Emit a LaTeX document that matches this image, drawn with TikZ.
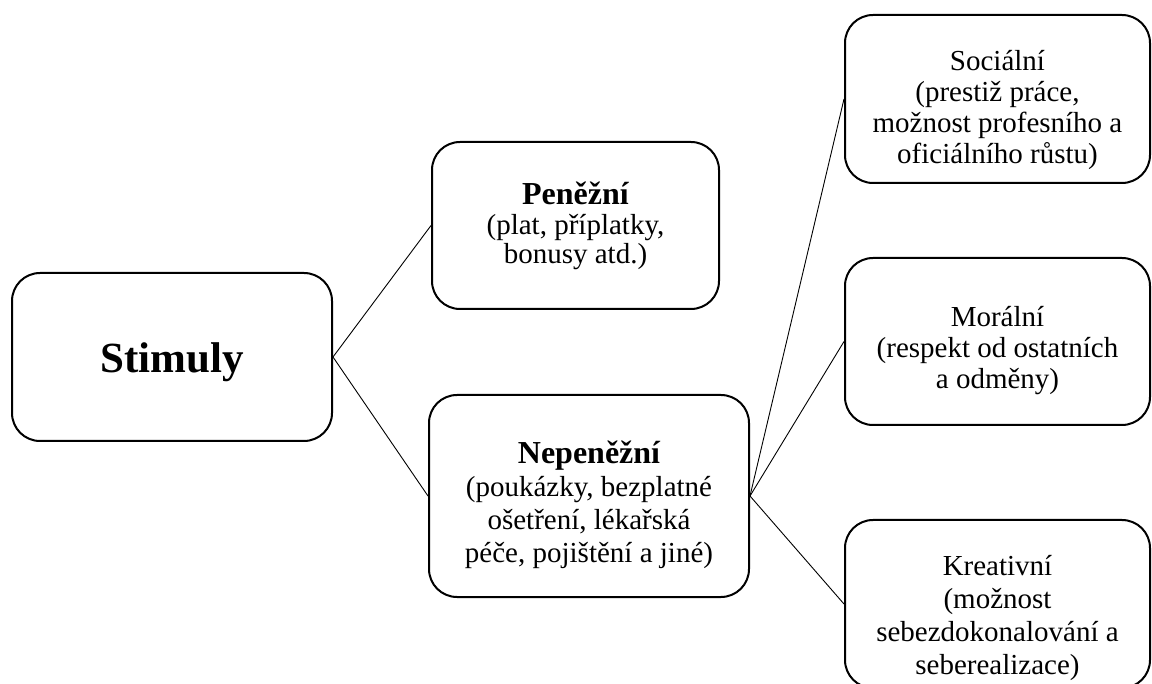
\documentclass[tikz,border=0pt]{standalone}
\usepackage{fontspec}
\setmainfont{Liberation Serif}
\begin{document}
\begin{tikzpicture}[x=1pt,y=-1pt,
  box/.style={draw=black, line width=2pt, rounded corners=28pt, align=center, inner sep=0pt,
    font=\fontsize{29}{31}\selectfont},
  conn/.style={draw=black, line width=0.9pt}]
\useasboundingbox (0,0) rectangle (1152,684);
\node[box, minimum width=320pt, minimum height=168pt] (stim) at (172,357)
  {\rule{0pt}{40pt}\fontsize{43}{46}\selectfont\bfseries Stimuly};
\node[box, minimum width=287pt, minimum height=167pt, font=\fontsize{29}{28.5}\selectfont] (pen) at (575.5,225.5)
  {{\fontsize{32}{28.5}\selectfont\bfseries Peněžní}\\[2pt](plat, příplatky,\\bonusy atd.)};
\node[box, minimum width=320pt, minimum height=202pt, font=\fontsize{29}{33}\selectfont] (nep) at (589,496)
  {\rule{0pt}{40pt}{\fontsize{32}{33}\selectfont\bfseries Nepeněžní}\\(poukázky, bezplatné\\ošetření, lékařská\\péče, pojištění a jiné)};
\node[box, minimum width=305pt, minimum height=168pt] (soc) at (997.5,99)
  {\rule{0pt}{42pt}Sociální\\(prestiž práce,\\možnost profesního a\\oficiálního růstu)};
\node[box, minimum width=305pt, minimum height=167pt] (mor) at (997.5,341.5)
  {\rule{0pt}{38pt}Morální\\(respekt od ostatních\\a odměny)};
\node[box, minimum width=305pt, minimum height=168pt] (kre) at (997.5,604) {};
\node[align=center, inner sep=0pt, font=\fontsize{29}{33}\selectfont] (kretext) at (997.5,618)
  {Kreativní\\(možnost\\sebezdokonalování a\\seberealizace)};
\draw[conn] (stim.east) -- (pen.west);
\draw[conn] (stim.east) -- (nep.west);
\draw[conn] (nep.east) -- (soc.west);
\draw[conn] (nep.east) -- (mor.west);
\draw[conn] (nep.east) -- (kre.west);
\end{tikzpicture}
\end{document}
